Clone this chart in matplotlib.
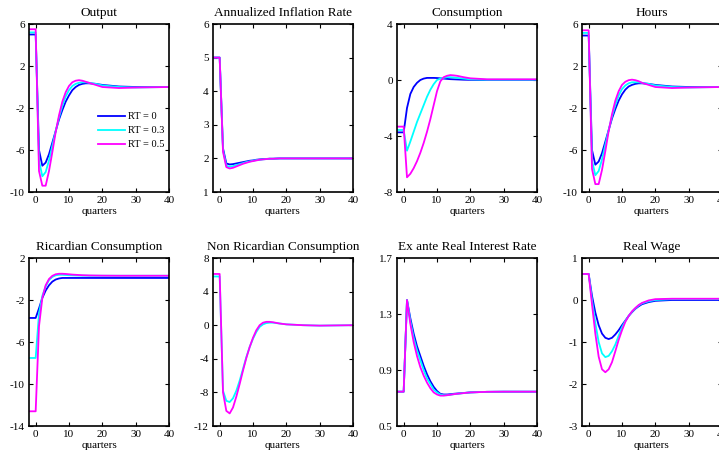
import matplotlib
matplotlib.use("Agg")
import matplotlib.pyplot as plt

plt.rcParams['font.family'] = ['Liberation Serif', 'DejaVu Serif']

quarters = [-2, 0, 1, 2, 3, 4, 5, 6, 7, 8, 9, 10, 11, 12, 13, 14, 15, 16, 18, 20, 25, 30, 40]

labels = ["RT = 0", "RT = 0.3", "RT = 0.5"]
colors = ["#0000ff", "#00ffff", "#ff00ff"]

output_rt0 = [5.0, 5.0, -6.0, -7.5, -7.2, -6.4, -5.3, -4.2, -3.1, -2.2, -1.4, -0.8, -0.3, 0.0, 0.2, 0.3, 0.35, 0.35, 0.3, 0.2, 0.05, 0.0, 0.0]
output_rt3 = [5.2, 5.2, -7.0, -8.5, -8.1, -7.0, -5.6, -4.2, -2.9, -1.8, -0.9, -0.3, 0.1, 0.3, 0.4, 0.45, 0.45, 0.4, 0.3, 0.15, 0.0, -0.05, 0.0]
output_rt5 = [5.5, 5.5, -8.0, -9.4, -9.4, -8.0, -6.2, -4.3, -2.7, -1.4, -0.5, 0.1, 0.45, 0.6, 0.65, 0.6, 0.5, 0.4, 0.2, 0.0, -0.1, -0.05, 0.0]

infl_rt0 = [5.0, 5.0, 2.3, 1.85, 1.82, 1.83, 1.85, 1.87, 1.89, 1.91, 1.93, 1.94, 1.96, 1.97, 1.98, 1.985, 1.99, 1.99, 2.0, 2.0, 2.0, 2.0, 2.0]
infl_rt3 = [5.0, 5.0, 2.25, 1.78, 1.75, 1.77, 1.8, 1.83, 1.86, 1.89, 1.91, 1.93, 1.95, 1.96, 1.97, 1.98, 1.99, 1.99, 2.0, 2.0, 2.0, 2.0, 2.0]
infl_rt5 = [5.0, 5.0, 2.2, 1.74, 1.7, 1.72, 1.76, 1.8, 1.84, 1.87, 1.9, 1.92, 1.94, 1.96, 1.97, 1.98, 1.99, 1.99, 2.0, 2.0, 2.0, 2.0, 2.0]

cons_rt0 = [-3.74, -3.74, -2.0, -1.0, -0.5, -0.2, 0.0, 0.1, 0.15, 0.15, 0.15, 0.14, 0.12, 0.1, 0.08, 0.06, 0.05, 0.04, 0.02, 0.01, 0.0, 0.0, 0.0]
cons_rt3 = [-3.57, -3.57, -5.05, -4.4, -3.7, -3.0, -2.4, -1.8, -1.2, -0.7, -0.3, 0.0, 0.1, 0.15, 0.2, 0.2, 0.18, 0.15, 0.1, 0.05, 0.02, 0.02, 0.02]
cons_rt5 = [-3.33, -3.33, -6.95, -6.7, -6.3, -5.8, -5.2, -4.5, -3.7, -2.8, -1.8, -0.8, -0.1, 0.2, 0.3, 0.35, 0.33, 0.3, 0.2, 0.12, 0.05, 0.05, 0.05]

hours_rt0 = [4.9, 4.9, -6.0, -7.4, -7.1, -6.3, -5.2, -4.1, -3.0, -2.1, -1.3, -0.7, -0.25, 0.05, 0.2, 0.3, 0.35, 0.35, 0.3, 0.2, 0.05, 0.0, 0.0]
hours_rt3 = [5.15, 5.15, -7.0, -8.4, -8.0, -6.9, -5.5, -4.1, -2.8, -1.7, -0.8, -0.2, 0.15, 0.35, 0.45, 0.45, 0.45, 0.4, 0.3, 0.15, 0.0, -0.05, 0.0]
hours_rt5 = [5.4, 5.4, -7.8, -9.25, -9.25, -7.9, -6.1, -4.2, -2.6, -1.3, -0.4, 0.2, 0.5, 0.65, 0.7, 0.65, 0.55, 0.4, 0.2, 0.0, -0.1, -0.05, 0.0]

ric_rt0 = [-3.71, -3.71, -2.8, -1.8, -1.1, -0.6, -0.25, -0.05, 0.05, 0.1, 0.1, 0.1, 0.1, 0.1, 0.1, 0.1, 0.1, 0.1, 0.1, 0.1, 0.1, 0.1, 0.1]
ric_rt3 = [-7.52, -7.52, -3.3, -1.6, -0.7, -0.1, 0.2, 0.35, 0.4, 0.4, 0.38, 0.36, 0.35, 0.34, 0.33, 0.32, 0.32, 0.31, 0.31, 0.31, 0.31, 0.31, 0.31]
ric_rt5 = [-12.6, -12.6, -4.5, -1.8, -0.6, 0.0, 0.3, 0.45, 0.5, 0.5, 0.48, 0.45, 0.42, 0.4, 0.38, 0.36, 0.35, 0.34, 0.33, 0.32, 0.31, 0.31, 0.31]

# RT = 0 has no non Ricardian households
nonric_rt3 = [5.8, 5.8, -7.8, -9.0, -9.15, -8.7, -7.8, -6.6, -5.2, -3.8, -2.6, -1.6, -0.8, -0.2, 0.1, 0.25, 0.3, 0.3, 0.2, 0.1, 0.0, -0.05, 0.0]
nonric_rt5 = [6.1, 6.1, -8.0, -10.2, -10.5, -9.8, -8.5, -7.0, -5.4, -3.9, -2.6, -1.5, -0.6, 0.0, 0.3, 0.4, 0.4, 0.35, 0.2, 0.1, 0.0, -0.05, 0.0]

rate_rt0 = [0.745, 0.745, 1.40, 1.27, 1.16, 1.07, 1.0, 0.93, 0.87, 0.82, 0.78, 0.75, 0.73, 0.725, 0.725, 0.727, 0.73, 0.732, 0.736, 0.74, 0.744, 0.745, 0.745]
rate_rt3 = [0.745, 0.745, 1.40, 1.25, 1.13, 1.04, 0.97, 0.9, 0.84, 0.8, 0.76, 0.74, 0.725, 0.72, 0.72, 0.723, 0.727, 0.73, 0.735, 0.74, 0.744, 0.745, 0.745]
rate_rt5 = [0.745, 0.745, 1.40, 1.23, 1.10, 1.0, 0.92, 0.86, 0.81, 0.77, 0.74, 0.725, 0.717, 0.717, 0.72, 0.723, 0.727, 0.73, 0.735, 0.74, 0.744, 0.745, 0.745]

wage_rt0 = [0.62, 0.62, 0.1, -0.3, -0.6, -0.8, -0.9, -0.93, -0.9, -0.82, -0.72, -0.6, -0.49, -0.38, -0.29, -0.21, -0.15, -0.1, -0.05, -0.02, 0.0, 0.0, 0.0]
wage_rt3 = [0.62, 0.62, 0.0, -0.55, -1.0, -1.27, -1.36, -1.33, -1.22, -1.06, -0.85, -0.65, -0.5, -0.38, -0.28, -0.2, -0.13, -0.08, -0.03, 0.0, 0.02, 0.02, 0.02]
wage_rt5 = [0.62, 0.62, -0.1, -0.8, -1.35, -1.65, -1.72, -1.65, -1.48, -1.22, -0.95, -0.72, -0.52, -0.38, -0.27, -0.19, -0.12, -0.07, -0.01, 0.02, 0.03, 0.03, 0.03]

panels = [
    ("Output", [output_rt0, output_rt3, output_rt5], (-10, 6), [-10, -6, -2, 2, 6]),
    ("Annualized Inflation Rate", [infl_rt0, infl_rt3, infl_rt5], (1, 6), [1, 2, 3, 4, 5, 6]),
    ("Consumption", [cons_rt0, cons_rt3, cons_rt5], (-8, 4), [-8, -4, 0, 4]),
    ("Hours", [hours_rt0, hours_rt3, hours_rt5], (-10, 6), [-10, -6, -2, 2, 6]),
    ("Ricardian Consumption", [ric_rt0, ric_rt3, ric_rt5], (-14, 2), [-14, -10, -6, -2, 2]),
    ("Non Ricardian Consumption", [None, nonric_rt3, nonric_rt5], (-12, 8), [-12, -8, -4, 0, 4, 8]),
    ("Ex ante Real Interest Rate", [rate_rt0, rate_rt3, rate_rt5], (0.5, 1.7), [0.5, 0.9, 1.3, 1.7]),
    ("Real Wage", [wage_rt0, wage_rt3, wage_rt5], (-3, 1), [-3, -2, -1, 0, 1]),
]

W, H = 719, 453
fig = plt.figure(figsize=(W / 100, H / 100), dpi=100)

lefts = [29, 213, 397, 582]
tops = [24, 258]
aw, ah = 140, 168

for i, (title, series, ylim, yticks) in enumerate(panels):
    r, c = divmod(i, 4)
    ax = fig.add_axes([lefts[c] / W, 1 - (tops[r] + ah) / H, aw / W, ah / H])
    for s, col, lab in zip(series, colors, labels):
        if s is None:
            continue
        ax.plot(quarters, s, color=col, lw=1.3, label=lab)
    ax.set_xlim(-2, 40)
    ax.set_ylim(*ylim)
    ax.set_xticks([0, 10, 20, 30, 40])
    ax.set_yticks(yticks)
    ax.set_yticklabels([f"{v:g}" for v in yticks])
    ax.tick_params(direction='in', top=True, right=True, length=3, width=0.8,
                   labelsize=8, pad=3)
    for sp in ax.spines.values():
        sp.set_linewidth(1.2)
    ax.set_title(title, fontsize=9.5, pad=6)
    ax.set_xlabel("quarters", fontsize=8, labelpad=1)
    if i == 0:
        ax.legend(loc='upper left', bbox_to_anchor=(0.46, 0.5), frameon=False,
                  fontsize=7.5, handlelength=2.6, handletextpad=0.3,
                  labelspacing=0.45, borderaxespad=0)

fig.savefig("out.png", dpi=100)
